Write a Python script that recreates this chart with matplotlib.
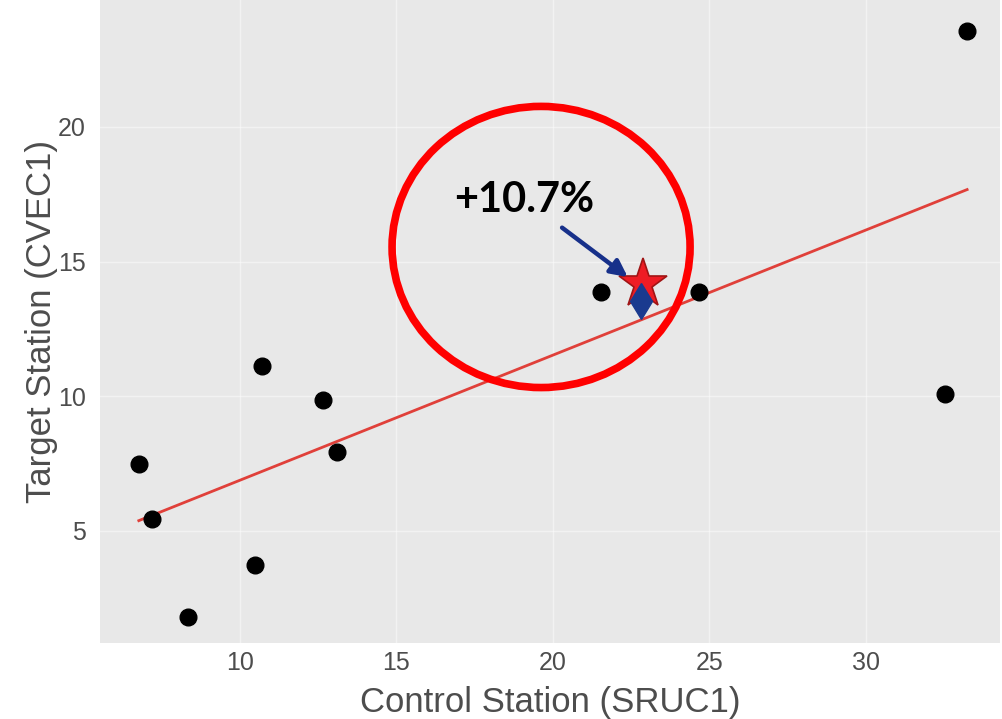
import numpy as np
import matplotlib.pyplot as plt
from matplotlib.patches import Ellipse

# station readings (control vs target)
control = [6.77, 7.19, 8.34, 10.48, 10.70, 12.65, 13.10, 21.53, 24.66, 32.52, 33.23]
target = [7.47, 5.43, 1.78, 3.72, 11.12, 9.85, 7.92, 13.87, 13.87, 10.07, 23.57]

# highlighted observation and its predicted value
star_x, star_y = 22.88, 14.16
pred_x, pred_y = 22.81, 13.53
label = "+10.7%"

xticks = [10, 15, 20, 25, 30]
yticks = [5, 10, 15, 20]

fig = plt.figure(figsize=(10.03, 7.19), dpi=100)
ax = fig.add_axes([0.0997, 0.1057, 0.8973, 0.8943])
ax.set_facecolor("#e8e8e8")
for s in ax.spines.values():
    s.set_visible(False)

ax.set_xlim(5.53, 34.28)
ax.set_ylim(0.82, 24.72)
ax.set_xticks(xticks)
ax.set_yticks(yticks)
ax.grid(True, color="white", lw=1.0, alpha=0.45)
ax.set_axisbelow(True)
ax.tick_params(length=0, labelsize=18, labelcolor="#4d4d4d")
ax.tick_params(axis="x", pad=6)
ax.tick_params(axis="y", pad=10)
for t in ax.get_xticklabels() + ax.get_yticklabels():
    t.set_family(["Liberation Sans", "DejaVu Sans"])

# least squares fit
m, b = np.polyfit(control, target, 1)
fx = np.array([min(control), max(control)])
ax.plot(fx, m * fx + b, color="#e0403a", lw=2, zorder=2)

ax.plot(control, target, "o", color="black", ms=12, zorder=3)

ax.add_patch(Ellipse((19.62, 15.54), 9.52, 10.45, fill=False, ec="#ff0000", lw=5.5, zorder=4))

ax.plot(star_x, star_y, "*", ms=37, mfc="#ee1c24", mec="#a01515", mew=1.2, zorder=5)
ax.plot(pred_x, pred_y, "d", ms=18, color="#1a3a8f", zorder=6)

ax.annotate("", xy=(22.46, 14.36), xytext=(20.22, 16.32),
            arrowprops=dict(arrowstyle="-|>,head_width=0.5,head_length=1.0",
                            color="#17308a", lw=3.2), zorder=6)
ax.text(19.07, 17.29, label, fontsize=30, fontweight="bold", family=["Lato", "DejaVu Sans"],
        ha="center", va="center", color="black", zorder=7)

ax.set_xlabel("Control Station (SRUC1)", fontsize=25, color="#4d4d4d",
              family=["Liberation Sans", "DejaVu Sans"], labelpad=8)
ax.set_ylabel("Target Station (CVEC1)", fontsize=25, color="#4d4d4d",
              family=["Liberation Sans", "DejaVu Sans"], labelpad=0)

fig.savefig("out.png", dpi=100)
